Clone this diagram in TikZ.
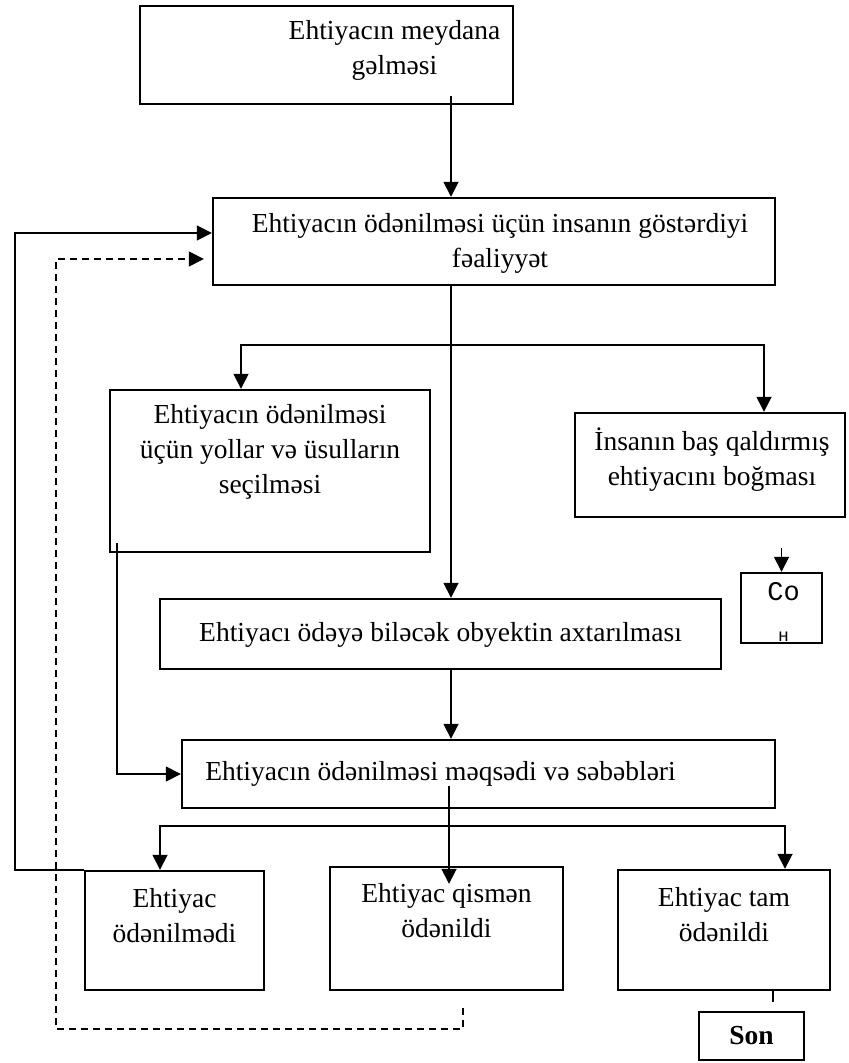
\documentclass[tikz,border=0pt]{standalone}
\usepackage{fontspec}
\setmainfont{Liberation Serif}
\newfontfamily\monofont{Liberation Mono}
\usetikzlibrary{arrows.meta,calc,positioning}

\begin{document}
\begin{tikzpicture}[x=0.5pt,y=-0.5pt,
    box/.style={draw,line width=1.2pt,inner sep=0pt},
    lbl/.style={inner sep=0pt,align=center,font=\fontsize{13.75}{17.5}\selectfont},
    link/.style={line width=0.85pt,-{Triangle[length=7.5pt,width=7.5pt]}},
    backlink/.style={link,dash pattern=on 3.5pt off 2.5pt}]

  \useasboundingbox (0,0) rectangle (848,1063);

  % draw the boxes
  \foreach \nm/\cx/\cy/\w/\h/\dx/\dy/\txt in {
    need/326.5/55/373/98/68/-5/{Ehtiyacın meydana\\gəlməsi},
    act/494/241.5/562/87/6/2/{Ehtiyacın ödənilməsi üçün insanın göstərdiyi\\fəaliyyət},
    way/270/471/320/162/0/-19/{Ehtiyacın ödənilməsi\\üçün yollar və üsulların\\seçilməsi},
    quit/710/465/270/104/2/-5/{İnsanın baş qaldırmış\\ehtiyacını boğması},
    obj/440.5/634/561/70/0/1/{Ehtiyacı ödəyə biləcək obyektin axtarılması},
    goal/478.5/774/593/68/-38/0/{Ehtiyacın ödənilməsi məqsədi və səbəbləri},
    no/174.5/930.5/179/119/0/-15/{Ehtiyac\\ödənilmədi},
    part/446.5/928.5/233/123/0/-18/{Ehtiyac qismən\\ödənildi},
    full/724/930/212/120/0/-15/{Ehtiyac tam\\ödənildi},
    son/751.5/1036/105/48/0/0/{\bfseries Son},
    co/781.5/608/81/70/2/4/{{\monofont\fontsize{13.5}{16}\selectfont Со}\\[3pt]{\monofont\fontsize{9}{10}\selectfont н}}}
  {
    \node[box,minimum width=\w*0.5pt,minimum height=\h*0.5pt] (\nm) at (\cx,\cy) {};
    \node[lbl] (\nm-t) at ($(\nm)+(\dx,\dy)$) {\txt};
  }

  % helper columns
  \coordinate (mid) at (451,0);
  \coordinate (lft) at (15,0);
  \coordinate (dlft) at (56,0);
  \coordinate (fk1) at (451,345);
  \coordinate (fk2) at (449,826);

  % main flow
  \draw[link] ($(need.south -| mid)+(0,-9)$) -- (act.north -| mid);
  \draw[link] (act.south -| mid) -- (obj.north -| mid);
  \draw[link] (fk1) -| ($(way.north)+(-29,0)$);
  \draw[link] (fk1) -| ($(quit.north)+(54,0)$);
  \draw[link] ($(co.north |- quit.south)+(0,30)$) -- (co.north);
  \draw[link] ($(way.south west)+(8,-10)$) |- (goal.west);
  \draw[link] (obj.south -| mid) -- (goal.north -| mid);
  \draw[link] ($(goal.south -| fk2)+(0,-23)$) -- ($(part.north -| fk2)+(0,18)$);
  \draw[link] (fk2) -| ($(no.north)+(-14.5,0)$);
  \draw[link] (fk2) -| ($(full.north)+(61,0)$);
  \draw[line width=0.85pt] ($(full.south)+(49,0)$) -- ($(son.north)+(21.5,-9)$);

  % draw the feedback loops
  \draw[link] (no.north west) -- (no.north west -| lft) |- ($(act.west)+(0,-8.5)$);
  \draw[backlink] ($(part.south)+(16.5,17)$) |- ($(part.south -| dlft)+(0,38)$) |- ($(act.west)+(-8,17.5)$);

\end{tikzpicture}
\end{document}
